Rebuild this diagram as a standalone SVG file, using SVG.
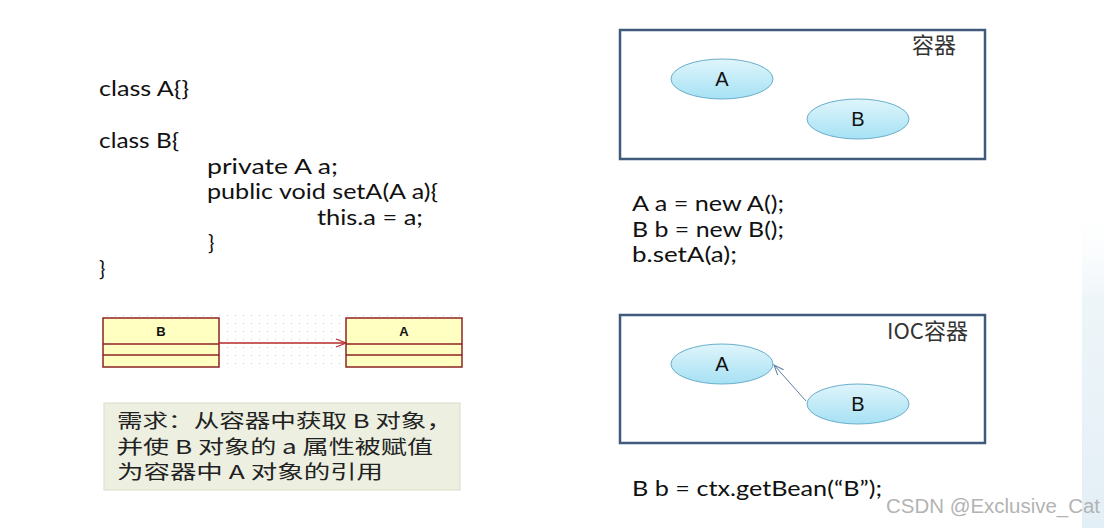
<svg xmlns="http://www.w3.org/2000/svg" width="1104" height="528" viewBox="0 0 1104 528">
<defs>
<style>
.code{font-family:Lato,"Liberation Sans",sans-serif;font-size:21px;fill:#111}
.cjk{font-family:"Noto Sans CJK SC",sans-serif;fill:#333}
.box{fill:#fff;stroke:#3f5a7a;stroke-width:2.5}
.ell{fill:url(#cyan);stroke:#6aaecb;stroke-width:1}
.elab{font-family:"Liberation Sans",sans-serif;font-size:20px;fill:#111;text-anchor:middle}
.uml{fill:#ffffc2;stroke:#8e2323;stroke-width:1.5}
.umlt{font-family:"Liberation Sans",sans-serif;font-size:13px;font-weight:bold;fill:#111;text-anchor:middle}
.req{font-family:"Noto Sans CJK SC",sans-serif;font-size:19px;fill:#222}
</style>
<linearGradient id="cyan" x1="0" y1="0" x2="0" y2="1">
<stop offset="0" stop-color="#dff5fb"/>
<stop offset="1" stop-color="#a6e1f4"/>
</linearGradient>
<linearGradient id="edge" x1="0" y1="0" x2="0" y2="1">
<stop offset="0" stop-color="#ffffff" stop-opacity="0"/>
<stop offset="0.3" stop-color="#eef5f9"/>
<stop offset="1" stop-color="#e3eff6"/>
</linearGradient>
<pattern id="dots" width="8" height="8" patternUnits="userSpaceOnUse">
<rect x="3" y="3" width="1" height="1" fill="#c8c8c8"/>
</pattern>
<marker id="openRed" markerWidth="12" markerHeight="10" refX="11" refY="5" orient="auto" markerUnits="userSpaceOnUse">
<path d="M1,1 L11,5 L1,9" fill="none" stroke="#b52a2a" stroke-width="1.2"/>
</marker>
<marker id="openBlue" markerWidth="12" markerHeight="10" refX="11" refY="5" orient="auto" markerUnits="userSpaceOnUse">
<path d="M1,1 L11,5 L1,9" fill="none" stroke="#5f7fa6" stroke-width="1"/>
</marker>
</defs>
<rect width="1104" height="528" fill="#fff"/>
<rect x="1082" y="200" width="22" height="328" fill="url(#edge)"/>

<g id="code-left">
<text class="code" x="99" y="96" textLength="90" lengthAdjust="spacingAndGlyphs">class A{}</text>
<text class="code" x="99" y="148" textLength="80" lengthAdjust="spacingAndGlyphs">class B{</text>
<text class="code" x="207" y="174" textLength="131" lengthAdjust="spacingAndGlyphs">private A a;</text>
<text class="code" x="207" y="199" textLength="231" lengthAdjust="spacingAndGlyphs">public void setA(A a){</text>
<text class="code" x="317" y="225" textLength="106" lengthAdjust="spacingAndGlyphs">this.a = a;</text>
<text class="code" x="208" y="250">}</text>
<text class="code" x="99" y="276">}</text>
</g>

<g id="uml">
<rect x="102" y="313" width="361" height="58" fill="url(#dots)"/>
<g id="uml-B">
<rect class="uml" x="103" y="318" width="116" height="49"/>
<line x1="103" y1="344" x2="219" y2="344" stroke="#8e2323" stroke-width="1.5"/>
<line x1="103" y1="355" x2="219" y2="355" stroke="#8e2323" stroke-width="1.5"/>
<text class="umlt" x="161" y="336">B</text>
</g>
<g id="uml-A">
<rect class="uml" x="346" y="318" width="116" height="49"/>
<line x1="346" y1="344" x2="462" y2="344" stroke="#8e2323" stroke-width="1.5"/>
<line x1="346" y1="355" x2="462" y2="355" stroke="#8e2323" stroke-width="1.5"/>
<text class="umlt" x="404" y="336">A</text>
</g>
</g>

<g id="requirement">
<rect x="104" y="403" width="356" height="87" fill="#edf0e1" stroke="#d9ddc9" stroke-width="1"/>
<text class="req" x="117" y="428" textLength="335" lengthAdjust="spacingAndGlyphs">需求：从容器中获取 B 对象，</text>
<text class="req" x="117" y="454" textLength="316" lengthAdjust="spacingAndGlyphs">并使 B 对象的 a 属性被赋值</text>
<text class="req" x="117" y="479" textLength="266" lengthAdjust="spacingAndGlyphs">为容器中 A 对象的引用</text>
</g>

<g id="container-top">
<rect class="box" x="620" y="30" width="365" height="129"/>
<text class="cjk" x="912" y="53" font-size="22">容器</text>
<g id="top-A"><ellipse class="ell" cx="722" cy="79" rx="51" ry="20"/><text class="elab" x="722" y="86">A</text></g>
<g id="top-B"><ellipse class="ell" cx="858" cy="119" rx="51" ry="20"/><text class="elab" x="858" y="126">B</text></g>
</g>

<g id="code-right">
<text class="code" x="632" y="211" textLength="152" lengthAdjust="spacingAndGlyphs">A a = new A();</text>
<text class="code" x="632" y="237" textLength="152" lengthAdjust="spacingAndGlyphs">B b = new B();</text>
<text class="code" x="632" y="262" textLength="105" lengthAdjust="spacingAndGlyphs">b.setA(a);</text>
<text class="code" x="632" y="496" textLength="250" lengthAdjust="spacingAndGlyphs">B b = ctx.getBean(“B”);</text>
</g>

<g id="container-ioc">
<rect class="box" x="620" y="315" width="365" height="128"/>
<text class="cjk" x="887" y="339" font-size="22" textLength="81" lengthAdjust="spacingAndGlyphs">IOC容器</text>
<g id="ioc-A"><ellipse class="ell" cx="722" cy="364" rx="51" ry="20"/><text class="elab" x="722" y="371">A</text></g>
<g id="ioc-B"><ellipse class="ell" cx="858" cy="404" rx="51" ry="20"/><text class="elab" x="858" y="411">B</text></g>
</g>

<g id="connectors">
<line x1="219" y1="343" x2="346" y2="343" stroke="#b52a2a" stroke-width="1.3" marker-end="url(#openRed)"/>
<line x1="806" y1="401" x2="774" y2="365" stroke="#5f7fa6" stroke-width="1" marker-end="url(#openBlue)"/>
</g>

<text x="886" y="513" font-family="Liberation Sans,sans-serif" font-size="20" fill="#b3b3b3" textLength="214" lengthAdjust="spacingAndGlyphs">CSDN @Exclusive_Cat</text>
</svg>
